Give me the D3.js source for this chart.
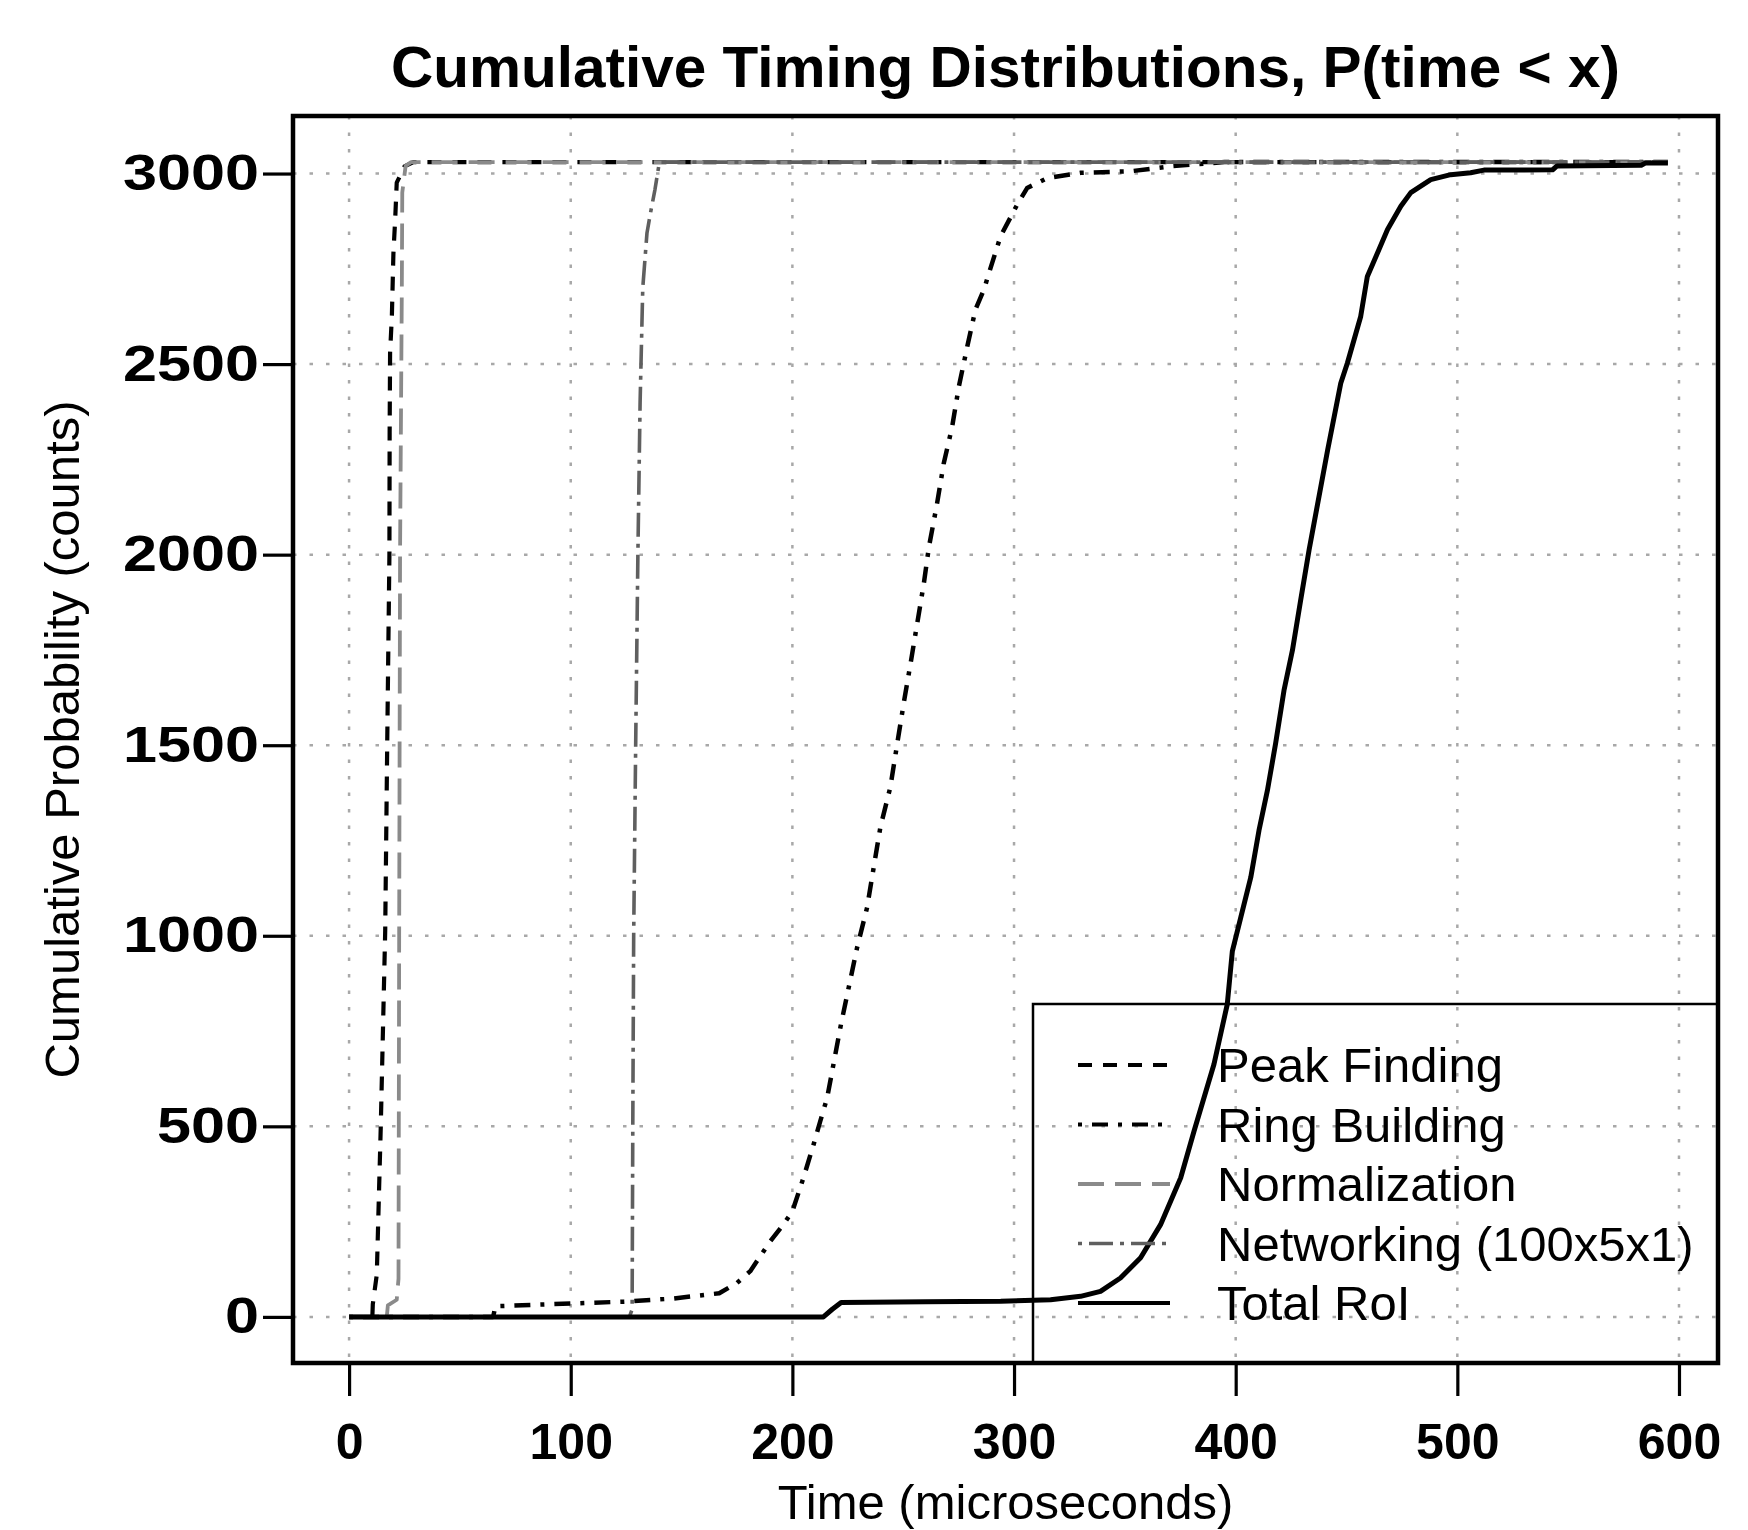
<!DOCTYPE html>
<html>

<head>
    <meta charset="utf-8">
    <title>Cumulative Timing Distributions</title>
    <script src="https://d3js.org/d3.v7.min.js"></script>
    <style>
        body {
            margin: 0;
            background: #fff;
        }

        svg text {
            font-family: "Liberation Sans", Arial, Helvetica, sans-serif;
            fill: #000;
        }
    </style>
</head>

<body>

    <div id="graph"></div>

    <script>
        // ---- data ----
        const seriesNames = ["Peak Finding", "Ring Building", "Normalization", "Networking (100x5x1)", "Total RoI"];

        const peakTime = [0, 10.5, 10.7, 12.5, 14.3, 16.3, 17.2, 18.2, 18.3, 18.5, 19.3, 20, 20.8, 21.5, 25, 29, 595];
        const peakCount = [0, 0, 33, 111, 500, 1013, 1500, 2000, 2320, 2530, 2625, 2790, 2880, 2976, 3019, 3030, 3030];

        const ringTime = [0, 65, 66, 124, 146, 167, 175, 181, 190, 196, 200, 205, 209.6, 212.6, 215.7, 222, 229.2, 233.7,
            236.7, 239.7, 244.2, 247.3, 250.2, 253.3, 256.3, 259.3, 261.6, 265.3, 268.3, 272.1, 275.1, 278.9, 282.6,
            286.4, 288.7, 293.9, 301.4, 305.9, 314.9, 330, 352.6, 370.7, 395, 595];
        const ringCount = [0, 0, 28, 40, 48, 62, 89, 120, 198, 243, 277, 365, 453, 514, 575, 770, 969, 1074,
            1180, 1285, 1390, 1504, 1609, 1714, 1819, 1924, 2020, 2135, 2240, 2336, 2441, 2546, 2643,
            2695, 2739, 2835, 2918, 2962, 2988, 3002, 3006, 3019, 3030, 3030];

        const normTime = [0, 17, 17.5, 21.5, 22.3, 22.6, 23.0, 23.8, 24, 25.5, 28, 595];
        const normCount = [0, 0, 30, 45, 100, 1000, 2000, 2700, 2950, 3020, 3030, 3030];

        const netTime = [0, 126.5, 127.7, 128.0, 128.4, 129.3, 130.3, 131.3, 132.5, 134.4, 136, 138, 140, 595];
        const netCount = [0, 0, 20, 500, 1000, 1500, 2000, 2400, 2700, 2844, 2897, 2958, 3030, 3030];

        const totalTime = [0, 214, 218, 222, 260, 294, 316.5, 330, 339, 348, 357.1, 366.1, 375.2, 381.2, 390.2, 396.2,
            398.5, 402.3, 406.8, 410.5, 414.3, 418, 421.8, 425.6, 429.3, 433.1, 441.5, 447.4, 450.4, 456.4, 459.4,
            464.6, 468.5, 474.5, 479, 488, 497, 506, 512, 543, 545, 583, 585, 595];
        const totalCount = [0, 0, 20, 38, 40, 41, 45, 54, 67, 102, 155, 242, 365, 487, 663, 820,
            960, 1048, 1153, 1276, 1381, 1504, 1644, 1749, 1880, 2012, 2275, 2450, 2503, 2625, 2730,
            2800, 2853, 2914, 2950, 2984, 2997, 3002, 3009, 3010, 3020, 3022, 3028, 3028];

        const xTicks = [0, 100, 200, 300, 400, 500, 600];
        const yTicks = [0, 500, 1000, 1500, 2000, 2500, 3000];

        // ---- layout ----
        const width = 1748,
            height = 1530;
        const box = { left: 293, right: 1718, top: 116, bottom: 1363 };

        const x = d3.scaleLinear()
            .domain([-25.3, 617.6])
            .range([box.left, box.right]);

        const y = d3.scaleLinear()
            .domain([-121, 3151])
            .range([box.bottom, box.top]);

        // line styles per series (R-like lty)
        const styles = [
            { color: "#000", dash: "14,11", w: 4.2 },
            { color: "#000", dash: "4,10,16,10", w: 4.5 },
            { color: "#8a8a8a", dash: "26,11", w: 3.8 },
            { color: "#5f5f5f", dash: "4,7,24,7", w: 3.6 },
            { color: "#000", dash: null, w: 5 }
        ];

        const series = [
            [peakTime, peakCount],
            [ringTime, ringCount],
            [normTime, normCount],
            [netTime, netCount],
            [totalTime, totalCount]
        ].map((d, i) => ({
            name: seriesNames[i],
            points: d[0].map((t, j) => [t, d[1][j]]),
            ...styles[i]
        }));

        const svg = d3.select("#graph")
            .append("svg")
            .attr("width", width)
            .attr("height", height);

        svg.append("defs")
            .append("clipPath")
            .attr("id", "plotclip")
            .append("rect")
            .attr("x", box.left)
            .attr("y", box.top)
            .attr("width", box.right - box.left)
            .attr("height", box.bottom - box.top);

        // grid (dotted, like R grid())
        const grid = svg.append("g").attr("class", "grid");

        grid.selectAll("line.vx")
            .data(xTicks)
            .enter()
            .append("line")
            .attr("x1", d => x(d))
            .attr("x2", d => x(d))
            .attr("y1", box.top)
            .attr("y2", box.bottom)
            .attr("stroke", "#a8a8a8")
            .attr("stroke-width", 2.5)
            .attr("stroke-dasharray", "3.5,13");

        grid.selectAll("line.hy")
            .data(yTicks)
            .enter()
            .append("line")
            .attr("x1", box.left)
            .attr("x2", box.right)
            .attr("y1", d => y(d))
            .attr("y2", d => y(d))
            .attr("stroke", "#a8a8a8")
            .attr("stroke-width", 2.5)
            .attr("stroke-dasharray", "3.5,13");

        // curves
        const line = d3.line()
            .x(d => x(d[0]))
            .y(d => y(d[1]));

        svg.append("g")
            .attr("clip-path", "url(#plotclip)")
            .selectAll("path")
            .data(series)
            .enter()
            .append("path")
            .attr("d", d => line(d.points))
            .attr("fill", "none")
            .attr("stroke", d => d.color)
            .attr("stroke-width", d => d.w)
            .attr("stroke-dasharray", d => d.dash)
            .attr("stroke-linejoin", "round");

        // axes
        const xAxis = svg.append("g")
            .attr("transform", `translate(0,${box.bottom})`)
            .call(d3.axisBottom(x).tickValues(xTicks).tickSize(33).tickPadding(27).tickFormat(d3.format("d")));

        const yAxis = svg.append("g")
            .attr("transform", `translate(${box.left},0)`)
            .call(d3.axisLeft(y).tickValues(yTicks).tickSize(30).tickPadding(4).tickFormat(d3.format("d")));

        [xAxis, yAxis].forEach(a => {
            a.select(".domain").remove();
            a.selectAll(".tick line").attr("stroke", "#000").attr("stroke-width", 3.2);
            a.selectAll(".tick text")
                .style("font-family", "'Liberation Sans', Arial, sans-serif")
                .style("font-size", "50px")
                .style("font-weight", "bold")
                .attr("fill", "#000");
        });

        // y labels are drawn a little wider in the original
        yAxis.selectAll(".tick text")
            .attr("textLength", d => String(d).length * 34)
            .attr("lengthAdjust", "spacingAndGlyphs");

        // plot frame
        svg.append("rect")
            .attr("x", box.left)
            .attr("y", box.top)
            .attr("width", box.right - box.left)
            .attr("height", box.bottom - box.top)
            .attr("fill", "none")
            .attr("stroke", "#000")
            .attr("stroke-width", 4.5);

        // title + axis labels
        svg.append("text")
            .attr("x", (box.left + box.right) / 2)
            .attr("y", 87)
            .attr("text-anchor", "middle")
            .attr("textLength", 1229)
            .attr("lengthAdjust", "spacingAndGlyphs")
            .style("font-size", "57px")
            .style("font-weight", "bold")
            .text("Cumulative Timing Distributions, P(time < x)");

        svg.append("text")
            .attr("x", (box.left + box.right) / 2)
            .attr("y", 1519)
            .attr("text-anchor", "middle")
            .style("font-size", "49px")
            .text("Time (microseconds)");

        svg.append("text")
            .attr("transform", `translate(79,${(box.top + box.bottom) / 2}) rotate(-90)`)
            .attr("text-anchor", "middle")
            .style("font-size", "49px")
            .text("Cumulative Probability (counts)");

        // legend (bottom right, no fill)
        const legendBox = { left: 1033, top: 1004 };
        const rowStep = 59.5;

        svg.append("rect")
            .attr("x", legendBox.left)
            .attr("y", legendBox.top)
            .attr("width", box.right - legendBox.left)
            .attr("height", box.bottom - legendBox.top)
            .attr("fill", "none")
            .attr("stroke", "#000")
            .attr("stroke-width", 2.5);

        const rows = svg.append("g")
            .selectAll("g")
            .data(series)
            .enter()
            .append("g")
            .attr("transform", (d, i) => `translate(0,${legendBox.top + 61 + i * rowStep})`);

        rows.append("line")
            .attr("x1", 1078)
            .attr("x2", 1170)
            .attr("stroke", d => d.color)
            .attr("stroke-width", d => Math.min(d.w, 4))
            .attr("stroke-dasharray", d => d.dash);

        rows.append("text")
            .attr("x", 1217)
            .attr("y", 17)
            .style("font-size", "49px")
            .text(d => d.name);
    </script>
</body>

</html>
